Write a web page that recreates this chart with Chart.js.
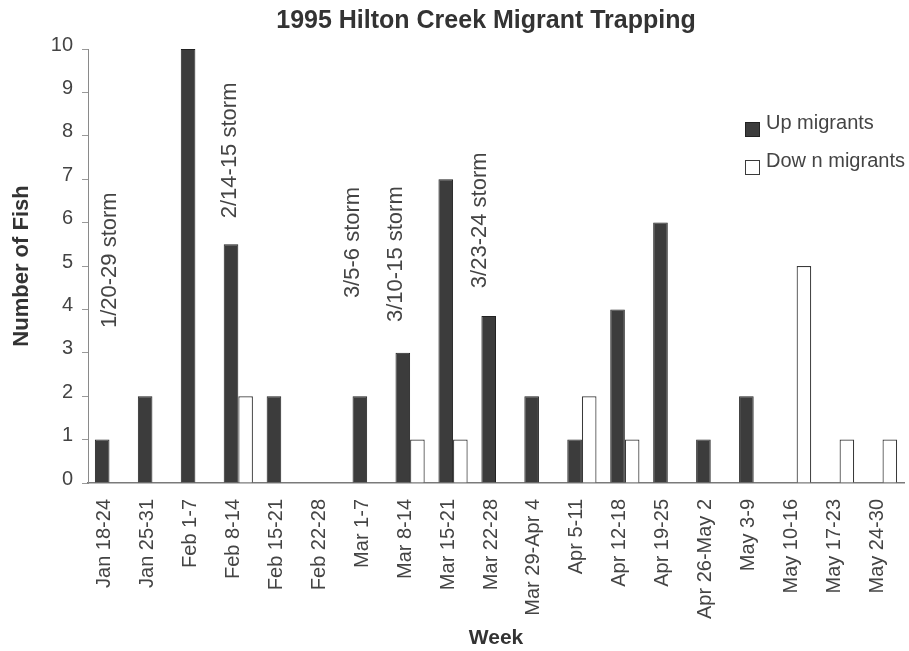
<!DOCTYPE html>
<html>
<head>
<meta charset="utf-8">
<title>1995 Hilton Creek Migrant Trapping</title>
<script src="https://cdn.jsdelivr.net/npm/chart.js@4/dist/chart.umd.min.js"></script>
<style>
  html, body { margin: 0; padding: 0; background: #fff; }
  #wrap { width: 909px; height: 651px; }
</style>
</head>
<body>
<div id="wrap"><canvas id="fishChart" width="909" height="651"></canvas></div>
<script>
'use strict';

// ── Data ─────────────────────────────────────────────────
const weeks = [
  'Jan 18-24', 'Jan 25-31', 'Feb 1-7', 'Feb 8-14', 'Feb 15-21', 'Feb 22-28',
  'Mar 1-7', 'Mar 8-14', 'Mar 15-21', 'Mar 22-28', 'Mar 29-Apr 4', 'Apr 5-11',
  'Apr 12-18', 'Apr 19-25', 'Apr 26-May 2', 'May 3-9', 'May 10-16', 'May 17-23',
  'May 24-30'
];
const upMigrants   = [1, 2, 10, 5.5, 2, 0, 2, 3, 7, 3.85, 2, 1, 4, 6, 1, 2, 0, 0, 0];
const downMigrants = [0, 0, 0, 2, 0, 0, 0, 1, 1, 0, 0, 2, 1, 0, 0, 0, 5, 1, 1];
const yTicks = [0, 1, 2, 3, 4, 5, 6, 7, 8, 9, 10];

// storm notes: text, category position, value where the text starts
const stormNames = ['1/20-29 storm', '2/14-15 storm', '3/5-6 storm', '3/10-15 storm', '3/23-24 storm'];
const stormAt    = [0.01, 2.8, 5.66, 6.67, 8.62];
const stormFrom  = [3.57, 6.1, 4.26, 3.71, 4.49];

// ── Look ─────────────────────────────────────────────────
const FONT     = "'Liberation Sans', Arial, Helvetica, sans-serif";
const TEXT     = '#444';
const UP_FILL  = '#3c3c3c';
const UP_EDGE  = '#222';
const DN_FILL  = '#ffffff';
const DN_EDGE  = '#3a3a3a';

Chart.defaults.font.family = FONT;
Chart.defaults.color = TEXT;

// ── Plugin: title, storm notes, legend ──────────────────
const extras = {
  id: 'extras',
  afterDraw(chart) {
    const { ctx, chartArea, scales } = chart;
    ctx.save();

    // title
    ctx.fillStyle = '#333';
    ctx.font = `bold 25px ${FONT}`;
    ctx.textAlign = 'center';
    ctx.textBaseline = 'middle';
    ctx.fillText('1995 Hilton Creek Migrant Trapping', 486, 21);

    // storm notes, rotated
    ctx.font = `22px ${FONT}`;
    ctx.fillStyle = TEXT;
    ctx.textAlign = 'left';
    stormNames.forEach((name, i) => {
      const x = scales.x.getPixelForValue(stormAt[i]);
      const y = scales.y.getPixelForValue(stormFrom[i]);
      ctx.save();
      ctx.translate(x, y);
      ctx.rotate(-Math.PI / 2);
      ctx.fillText(name, 0, 0);
      ctx.restore();
    });

    // legend
    const items = chart.data.datasets;
    const lx = chartArea.right - 159;
    const rows = [123, 161];
    ctx.font = `20px ${FONT}`;
    items.forEach((ds, i) => {
      const cy = rows[i];
      ctx.fillStyle = ds.backgroundColor;
      ctx.strokeStyle = ds.borderColor;
      ctx.lineWidth = 1;
      ctx.fillRect(lx, cy - 1, 15, 15);
      ctx.strokeRect(lx + 0.5, cy - 0.5, 14, 14);
      ctx.fillStyle = TEXT;
      ctx.textAlign = 'left';
      ctx.fillText(ds.label, lx + 21, cy);
    });

    ctx.restore();
  }
};

// ── Chart ────────────────────────────────────────────────
const ctx = document.getElementById('fishChart').getContext('2d');
new Chart(ctx, {
  type: 'bar',
  data: {
    labels: weeks,
    datasets: [
      {
        label: 'Up migrants',
        data: upMigrants,
        backgroundColor: UP_FILL,
        borderColor: UP_EDGE,
        borderWidth: 1,
        categoryPercentage: 0.68,
        barPercentage: 1.0,
      },
      {
        label: 'Dow n migrants',
        data: downMigrants,
        backgroundColor: DN_FILL,
        borderColor: DN_EDGE,
        borderWidth: 1.2,
        categoryPercentage: 0.68,
        barPercentage: 1.0,
      },
    ],
  },
  options: {
    responsive: false,
    animation: false,
    devicePixelRatio: 1,
    layout: { padding: { top: 49, right: 5, bottom: 0, left: 0 } },
    plugins: {
      legend: { display: false },
      title: { display: false },
      tooltip: { enabled: false },
    },
    scales: {
      x: {
        grid: { display: false, drawTicks: false },
        border: { display: true, color: '#7a7a7a', width: 1.5 },
        ticks: {
          autoSkip: false,
          minRotation: 90,
          maxRotation: 90,
          padding: 16,
          labelOffset: -5,
          color: TEXT,
          font: { size: 20 },
        },
        title: {
          display: true,
          text: 'Week',
          color: '#333',
          font: { size: 21, weight: 'bold' },
          padding: { top: 0, bottom: 0 },
        },
        afterFit(scale) {
          scale.height = 168;
          scale.paddingLeft = 0;
          scale.paddingRight = 0;
        },
      },
      y: {
        min: 0,
        max: 10,
        afterBuildTicks(scale) { scale.ticks = yTicks.map(v => ({ value: v })); },
        grid: { drawOnChartArea: false, drawTicks: true, tickLength: 6, color: '#999' },
        border: { display: true, color: '#8a8a8a', width: 1 },
        ticks: {
          padding: 9,
          labelOffset: -4,
          color: TEXT,
          font: { size: 20 },
        },
        title: {
          display: true,
          text: 'Number of Fish',
          color: '#333',
          font: { size: 22, weight: 'bold' },
          padding: { top: 9, bottom: 0 },
        },
        afterFit(scale) { scale.width = 88; },
      },
    },
  },
  plugins: [extras],
});
</script>
</body>
</html>
